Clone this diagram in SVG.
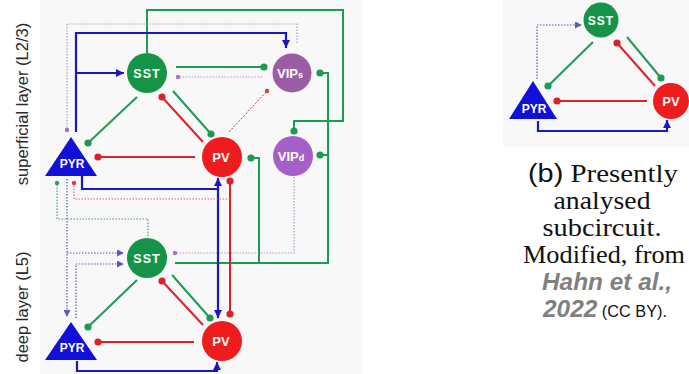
<svg xmlns="http://www.w3.org/2000/svg" width="689" height="374" viewBox="0 0 689 374">
<style>
.bg{fill:#ffffff}
.panel{fill:#f8f8f8}
.node-lbl{font-family:"Liberation Sans",Arial,sans-serif;font-weight:bold;fill:#ffffff;text-anchor:middle}
.side{font-family:"Liberation Sans",Arial,sans-serif;font-size:16.5px;fill:#2a2a2a;text-anchor:middle}
.g{stroke:#1e9a55;stroke-width:2;fill:none}
.r{stroke:#dc2228;stroke-width:2;fill:none}
.b{stroke:#1818c0;stroke-width:2.2;fill:none}
.db{stroke:#5a5ab8;stroke-width:1.2;stroke-dasharray:1.5 1.5;fill:none}
.dg{stroke:#4f9c70;stroke-width:1.2;stroke-dasharray:1.5 1.5;fill:none}
.dr{stroke:#e06666;stroke-width:1.2;stroke-dasharray:1.5 1.5;fill:none}
.dp{stroke:#b59bc0;stroke-width:1.2;stroke-dasharray:1.5 1.5;fill:none}
.dv{stroke:#c08ed0;stroke-width:1.2;stroke-dasharray:1.5 1.5;fill:none}
.rdot{stroke:#c83838;stroke-width:1;stroke-dasharray:2 1.5;fill:none}
.serif{font-family:"Liberation Serif","Times New Roman",serif;font-size:25px;fill:#111;text-anchor:middle}
.sans{font-family:"Liberation Sans",Arial,sans-serif}
.cite{font-family:"Liberation Sans",Arial,sans-serif;font-weight:bold;font-style:italic;fill:#808080}
</style>
<defs>
<marker id="mgd" viewBox="-4 -4 8 8" refX="0" refY="0" markerWidth="8" markerHeight="8" markerUnits="userSpaceOnUse"><circle r="3.6" fill="#1e9a55"/></marker>
<marker id="mrd" viewBox="-4 -4 8 8" refX="0" refY="0" markerWidth="8" markerHeight="8" markerUnits="userSpaceOnUse"><circle r="3.6" fill="#dc2228"/></marker>
<marker id="mba" viewBox="0 0 10 10" refX="10" refY="5" markerWidth="8" markerHeight="8" markerUnits="userSpaceOnUse" orient="auto"><path d="M0,0 L10,5 L0,10 Z" fill="#1818c0"/></marker>
<marker id="mdba" viewBox="0 0 10 10" refX="10" refY="5" markerWidth="7" markerHeight="7" markerUnits="userSpaceOnUse" orient="auto"><path d="M0,0 L10,5 L0,10 Z" fill="#5a5ab8"/></marker>
<marker id="mdgd" viewBox="-3 -3 6 6" refX="0" refY="0" markerWidth="6" markerHeight="6" markerUnits="userSpaceOnUse"><circle r="2.2" fill="#3a9a60"/></marker>
<marker id="mdrd" viewBox="-3 -3 6 6" refX="0" refY="0" markerWidth="6" markerHeight="6" markerUnits="userSpaceOnUse"><circle r="2.2" fill="#d84040"/></marker>
<marker id="mdpd" viewBox="-3 -3 6 6" refX="0" refY="0" markerWidth="6" markerHeight="6" markerUnits="userSpaceOnUse"><circle r="2.2" fill="#9a78b0"/></marker>
<marker id="mdvd" viewBox="-3 -3 6 6" refX="0" refY="0" markerWidth="6" markerHeight="6" markerUnits="userSpaceOnUse"><circle r="2.2" fill="#b070c8"/></marker>
</defs>
<rect class="bg" x="0" y="0" width="689" height="374"/>
<rect class="panel" x="40" y="0" width="322" height="374"/>
<rect class="panel" x="503" y="0" width="186" height="147"/>

<g id="layer-labels">
<text class="side" transform="translate(28,104) rotate(-90)">superficial layer (L2/3)</text>
<text class="side" transform="translate(28,307) rotate(-90)">deep layer (L5)</text>
</g>

<g id="connectors">
<path class="dp" d="M297,43 V24 H67 V130" marker-end="url(#mdpd)"/>
<path class="g" d="M147,53 V10 H343 V121 H294 V131" marker-end="url(#mgd)"/>
<path class="b" d="M76,132 V33 H286 V48" marker-end="url(#mba)"/>
<path class="b" d="M76,73 H124" marker-end="url(#mba)"/>
<path class="g" d="M176,67 H264" marker-end="url(#mgd)"/>
<path class="dv" d="M262,77 H178" marker-end="url(#mdvd)"/>
<path class="g" d="M137,97 L88,143" marker-end="url(#mgd)"/>
<path class="r" d="M203,142 L162,97" marker-end="url(#mrd)"/>
<path class="g" d="M173,91 L211,134" marker-end="url(#mgd)"/>
<path class="r" d="M195,157 H98" marker-end="url(#mrd)"/>
<path class="rdot" d="M229,132 L267,91" marker-end="url(#mdrd)"/>
<path class="g" d="M175,263 H328 V73 H320" marker-end="url(#mgd)"/>
<path class="g" d="M328,155 H320" marker-end="url(#mgd)"/>
<path class="g" d="M259,263 V158 H251" marker-end="url(#mgd)"/>
<path class="dv" d="M294,177 V253 H175" marker-end="url(#mdvd)"/>
<path class="b" d="M82,176 V189 H218 V178" marker-end="url(#mba)"/>
<path class="b" d="M218,189 V318" marker-end="url(#mba)"/>
<path class="r" d="M230,181 V314" marker-start="url(#mrd)" marker-end="url(#mrd)"/>
<path class="dr" d="M230,199 H74 V183" marker-end="url(#mdrd)"/>
<path class="dg" d="M148,236 V219 H57 V183" marker-end="url(#mdgd)"/>
<path class="db" d="M67,179 V317" marker-end="url(#mdba)"/>
<path class="db" d="M67,253 H124" marker-end="url(#mdba)"/>
<path class="db" d="M76,318 V264 H124" marker-end="url(#mdba)"/>
<path class="g" d="M137,280 L88,327" marker-end="url(#mgd)"/>
<path class="r" d="M203,325 L162,281" marker-end="url(#mrd)"/>
<path class="g" d="M172,275 L210,318" marker-end="url(#mgd)"/>
<path class="r" d="M194,342 H98" marker-end="url(#mrd)"/>
<path class="b" d="M77,361 V371 H217 V362" marker-end="url(#mba)"/>
<path class="db" d="M537,79 V25 H582" marker-end="url(#mdba)"/>
<path class="g" d="M593,42 L548,86" marker-end="url(#mgd)"/>
<path class="g" d="M627,37 L661,78" marker-end="url(#mgd)"/>
<path class="r" d="M655,86 L617,43" marker-end="url(#mrd)"/>
<path class="r" d="M647,101 H557" marker-end="url(#mrd)"/>
<path class="b" d="M538,121 V131 H667 V120" marker-end="url(#mba)"/>
</g>

<g id="sst-l23"><circle cx="147" cy="73" r="20" fill="#159447"/><text class="node-lbl" x="147" y="78" font-size="12.5" letter-spacing="1">SST</text></g>
<g id="vips"><circle cx="292" cy="73" r="19.5" fill="#9a5ca4"/><text class="node-lbl" x="290" y="78" font-size="13">VIP<tspan font-size="9">s</tspan></text></g>
<g id="pyr-l23"><polygon points="71,137 45,176 97,176" fill="#1010d8"/><text class="node-lbl" x="72" y="168" font-size="12">PYR</text></g>
<g id="pv-l23"><circle cx="222" cy="157" r="20" fill="#ee1c1c"/><text class="node-lbl" x="221" y="162" font-size="13">PV</text></g>
<g id="vipd"><circle cx="293" cy="156" r="20" fill="#a45fc8"/><text class="node-lbl" x="291" y="161" font-size="13">VIP<tspan font-size="9">d</tspan></text></g>
<g id="sst-l5"><circle cx="147" cy="258" r="20" fill="#159447"/><text class="node-lbl" x="147" y="263" font-size="12.5" letter-spacing="1">SST</text></g>
<g id="pyr-l5"><polygon points="71,322 45,360 97,360" fill="#1010d8"/><text class="node-lbl" x="72" y="352" font-size="12">PYR</text></g>
<g id="pv-l5"><circle cx="222" cy="341" r="20" fill="#ee1c1c"/><text class="node-lbl" x="221" y="346" font-size="13">PV</text></g>

<g id="b-sst"><circle cx="601" cy="20" r="17.5" fill="#159447"/><text class="node-lbl" x="601" y="25" font-size="12" letter-spacing="1">SST</text></g>
<g id="b-pyr"><polygon points="533,81 509,119 557,119" fill="#1010d8"/><text class="node-lbl" x="534" y="113" font-size="12">PYR</text></g>
<g id="b-pv"><circle cx="671" cy="101" r="18" fill="#ee1c1c"/><text class="node-lbl" x="671" y="106" font-size="13">PV</text></g>

<g id="caption">
<text class="serif" x="603" y="182" textLength="150" lengthAdjust="spacingAndGlyphs"><tspan class="sans">(b)</tspan> Presently</text>
<text class="serif" x="602" y="209" textLength="97" lengthAdjust="spacingAndGlyphs">analysed</text>
<text class="serif" x="602" y="236" textLength="119" lengthAdjust="spacingAndGlyphs">subcircuit.</text>
<text class="serif" x="604" y="263" textLength="162" lengthAdjust="spacingAndGlyphs">Modified, from</text>
<text class="cite" x="607" y="290" font-size="24" text-anchor="middle" textLength="130" lengthAdjust="spacingAndGlyphs">Hahn et al.,</text>
<text x="605" y="317" text-anchor="middle" textLength="124" lengthAdjust="spacingAndGlyphs"><tspan class="cite" font-size="24">2022</tspan><tspan class="sans" font-size="16" fill="#111"> (CC BY).</tspan></text>
</g>
</svg>
